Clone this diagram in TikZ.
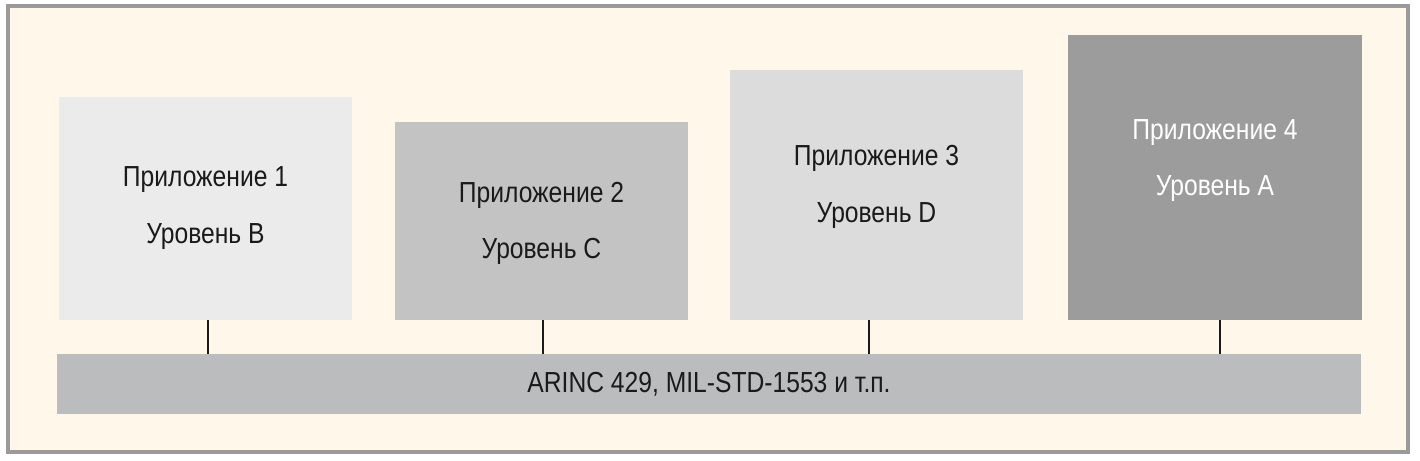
\documentclass[tikz,border=0pt]{standalone}
\usepackage{fontspec}
\setmainfont[FakeStretch=0.85]{Liberation Sans}
\definecolor{cream}{HTML}{FEF7EA}
\definecolor{frame}{HTML}{9A9A9A}
\definecolor{gA}{HTML}{EBEBEB}
\definecolor{gB}{HTML}{C3C3C3}
\definecolor{gC}{HTML}{DCDCDC}
\definecolor{gD}{HTML}{9C9C9C}
\definecolor{gbus}{HTML}{BBBCBE}
\definecolor{ink}{HTML}{1A1A1A}
\begin{document}
\begin{tikzpicture}[x=1pt,y=-1pt,
  appbox/.style={rectangle, draw=none, inner sep=0pt, minimum width=293pt},
  apptext/.style={inner sep=0pt, align=center, text=ink, font=\fontsize{29}{56.5}\selectfont},
  busbox/.style={rectangle, draw=none, inner sep=0pt, fill=gbus, text=ink,
    font=\fontsize{29}{34}\selectfont},
  link/.style={draw=ink, line width=2pt}]
\useasboundingbox (0,0) rectangle (1420,460);
\fill[white] (0,0) rectangle (1420,460);
\draw[frame, line width=3.5pt, fill=cream] (8,6) rectangle (1408,452);
\node[appbox, fill=gA, minimum height=223pt] (b1) at (205.5,208.5) {};
\node[appbox, fill=gB, minimum height=198pt] (b2) at (541.5,221) {};
\node[appbox, fill=gC, minimum height=250pt] (b3) at (876.5,195) {};
\node[appbox, fill=gD, minimum width=294pt, minimum height=285pt] (b4) at (1215,177.5) {};
\node[apptext] (t1) at (205.5,208) {Приложение 1\\Уровень B};
\node[apptext] (t2) at (541.5,223.5) {Приложение 2\\Уровень C};
\node[apptext] (t3) at (876.5,187) {Приложение 3\\Уровень D};
\node[apptext, text=white] (t4) at (1215,160.5) {Приложение 4\\Уровень A};
\node[busbox, minimum width=1304pt, minimum height=60pt] (bus) at (709,384) {ARINC 429, MIL-STD-1553 и т.п.};
\draw[link] ([xshift=2.5pt]b1.south) -- ([xshift=2.5pt]b1.south |- bus.north);
\draw[link] ([xshift=1.5pt]b2.south) -- ([xshift=1.5pt]b2.south |- bus.north);
\draw[link] ([xshift=-7.5pt]b3.south) -- ([xshift=-7.5pt]b3.south |- bus.north);
\draw[link] ([xshift=5pt]b4.south) -- ([xshift=5pt]b4.south |- bus.north);
\end{tikzpicture}
\end{document}
